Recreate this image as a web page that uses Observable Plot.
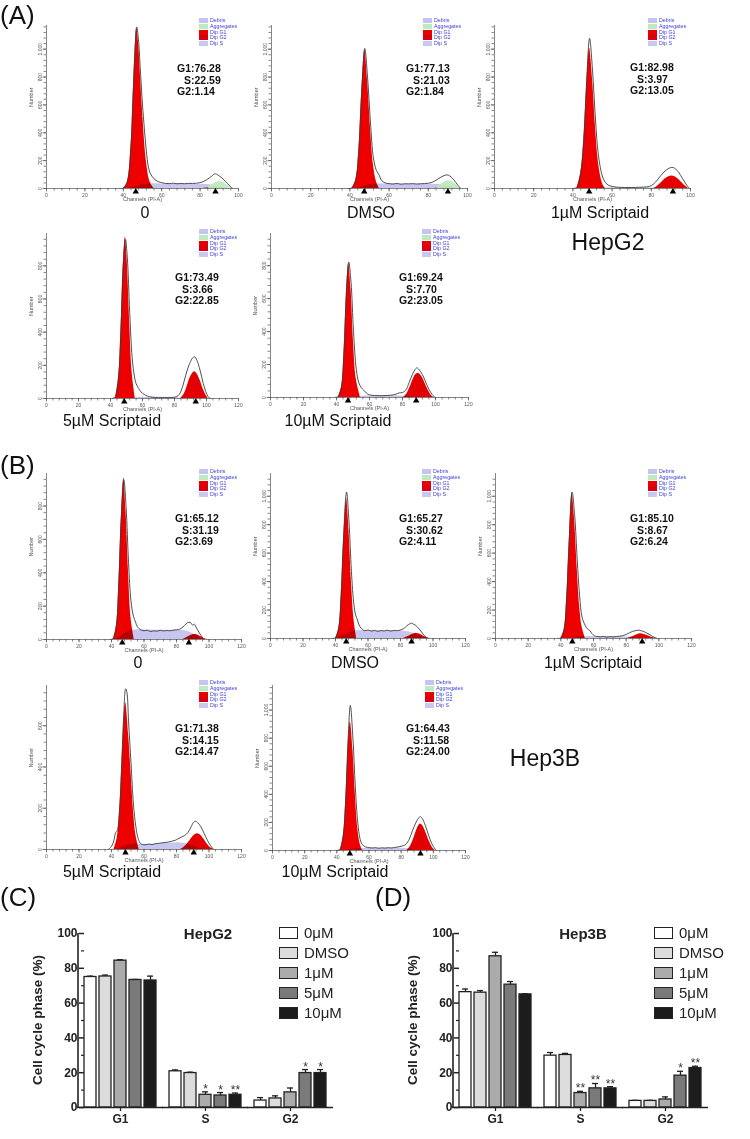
<!DOCTYPE html>
<html><head><meta charset="utf-8">
<script src="https://cdn.jsdelivr.net/npm/d3@7"></script>
<script src="https://cdn.jsdelivr.net/npm/@observablehq/plot@0.6"></script>
<style>
body{margin:0;background:#fff;font-family:Arial,"Liberation Sans",sans-serif;}
#root{position:relative;width:750px;height:1139px;overflow:hidden;background:#fff;}
.abs{position:absolute;white-space:nowrap;}
.panel{font-size:26px;color:#111;line-height:30px;}
.cond{font-size:16px;color:#111;transform:translate(-50%,-50%);}
.big{font-size:23px;color:#111;transform:translate(-50%,-50%);}
.stats{font-size:10.5px;font-weight:bold;line-height:11.5px;color:#111;}
.stats .k{display:inline-block;width:14px;text-align:right;}
.leg{font-size:5.3px;color:#3b3bd6;line-height:5.8px;}
.leg i{display:inline-block;width:9px;height:5px;margin-right:2px;vertical-align:middle;}
.btitle{font-size:15px;font-weight:bold;color:#222;transform:translate(-50%,-50%);}
.bleg{font-size:15px;color:#222;line-height:20px;}
.bleg i{display:inline-block;width:17px;height:10px;border:1.3px solid #222;margin-right:6px;vertical-align:-1px;}
.ytitle{font-size:13.5px;font-weight:bold;color:#222;transform:translate(-50%,-50%) rotate(-90deg);}
</style></head><body><div id="root"></div>
<script>
// ---------------- DATA ----------------
const conditions = ["0","DMSO","1µM Scriptaid","5µM Scriptaid","10µM Scriptaid"];
const legendItems = ["Debris","Aggregates","Dip G1","Dip G2","Dip S"];
const hepg2_stats = [["76.28","22.59","1.14"],["77.13","21.03","1.84"],["82.98","3.97","13.05"],["73.49","3.66","22.85"],["69.24","7.70","23.05"]];
const hep3b_stats = [["65.12","31.19","3.69"],["65.27","30.62","4.11"],["85.10","8.67","6.24"],["71.38","14.15","14.47"],["64.43","11.58","24.00"]];

// HepG2 0
const hepg2_0_g1 = [[40,0],[42,40],[44,300],[45,620],[46,950],[47,1150],[48,1040],[49,800],[50,560],[52,200],[54,45],[56,0]];
const hepg2_0_line = [[38,0],[40,3],[42,45],[44,305],[45,625],[46,955],[47,1160],[48,1050],[49,820],[50,600],[52,270],[53,160],[54,110],[56,70],[58,50],[60,42],[62,36],[64,35],[66,38],[68,34],[70,36],[72,34],[74,37],[76,36],[78,38],[80,42],[82,52],[84,68],[86,88],[87,100],[88,106],[89,100],[90,90],[92,68],[94,38],[96,12],[97,0]];
const hepg2_0_s = [[42,0],[46,12],[50,28],[54,33],[60,33],[70,32],[80,30],[86,25],[90,15],[94,4],[96,0]];
const hepg2_0_agg = [[84,0],[86,25],[88,42],[90,50],[92,45],[94,25],[96,5],[97,0]];
const hepg2_0_g2 = [[82,0],[85,7],[88,12],[91,7],[94,0]];
const hepg2_0_peaks = [46.5,88];
// HepG2 DMSO
const hepg2_dmso_g1 = [[41,0],[43,60],[44.5,260],[46,680],[47.6,995],[49,780],[50.5,440],[52,170],[53.5,50],[55,0]];
const hepg2_dmso_line = [[39,0],[41,4],[43,65],[44.5,265],[46,690],[47.6,1005],[49,800],[50.5,470],[52,220],[53.5,130],[55,95],[56,60],[58,40],[60,35],[62,32],[64,36],[66,31],[68,34],[70,33],[72,35],[74,32],[76,34],[78,35],[80,38],[82,45],[84,60],[86,78],[88,92],[89.5,98],[91,90],[93,62],[95,25],[96.5,0]];
const hepg2_dmso_s = [[43,0],[47,15],[51,28],[55,32],[65,31],[75,30],[85,28],[90,20],[94,6],[96,0]];
const hepg2_dmso_agg = [[84,0],[86,25],[88,45],[90,55],[92,50],[94,30],[96,5],[97,0]];
const hepg2_dmso_g2 = [[83,0],[86,8],[89,12],[92,7],[95,0]];
const hepg2_dmso_peaks = [47.3,90];
// HepG2 1uM
const hepg2_1_g1 = [[42,0],[44,110],[45.5,330],[47,720],[48.5,1007],[50,790],[51.5,450],[53,190],[55,40],[56.5,0]];
const hepg2_1_line = [[40,0],[42,8],[44,115],[45.5,345],[47,770],[48.5,1078],[50,850],[51.5,500],[53,240],[55,90],[56.5,45],[58,25],[60,15],[62,10],[65,8],[68,7],[72,8],[76,10],[79,15],[81,30],[83,60],[85,95],[87,125],[89,145],[90.5,152],[92,145],[94,115],[96,70],[98,25],[99.5,0]];
const hepg2_1_s = [[50,0],[55,5],[65,6],[75,6],[82,4],[88,0]];
const hepg2_1_g2 = [[81,0],[83,15],[85,40],[87,68],[89,85],[90.5,90],[92,85],[94,65],[96,35],[98,10],[99,0]];
const hepg2_1_peaks = [48.3,91];
// HepG2 5uM
const hepg2_5_g1 = [[43,0],[45,120],[46.5,400],[48,800],[49.3,974],[50.5,820],[52,460],[53.5,160],[55.5,0]];
const hepg2_5_line = [[41,0],[43,10],[45,125],[46.5,410],[48,820],[49.3,960],[50.5,850],[52,520],[53.5,250],[55,130],[56,90],[57.6,60],[59,40],[61,25],[63,15],[66,8],[70,5],[74,5],[78,6],[81,10],[83,25],[85,70],[87,140],[89,200],[91,240],[92.5,252],[94,230],[96,170],[98,90],[100,30],[101.5,5],[103,0]];
const hepg2_5_s = [[52,0],[58,6],[70,7],[80,6],[86,0]];
const hepg2_5_g2 = [[84,0],[86,25],[88,75],[90,130],[92.5,162],[94,150],[96,110],[98,55],[100,15],[101,0]];
const hepg2_5_peaks = [48.6,93.3];
// HepG2 10uM
const hepg2_10_g1 = [[41,0],[43,60],[44.5,260],[46,620],[47.4,812],[48.8,660],[50.3,340],[52,110],[54.5,0]];
const hepg2_10_line = [[39,0],[41,5],[43,65],[44.5,270],[46,640],[47.4,822],[48.8,700],[50.3,400],[52,170],[53.5,90],[55,60],[56.5,44],[58,28],[60,16],[63,12],[66,11],[70,12],[73,14],[76,20],[78,28],[80,30],[82,45],[84,90],[86,140],[87.5,168],[88.7,180],[90,170],[92,140],[94,95],[96,50],[98,18],[99.8,0]];
const hepg2_10_s = [[52,0],[56,8],[65,10],[75,10],[82,6],[88,0]];
const hepg2_10_g2 = [[80.5,0],[82.5,20],[84.5,60],[86.5,110],[88,138],[89.7,145],[91.5,130],[93.5,90],[95.5,45],[97.5,12],[99,0]];
const hepg2_10_peaks = [47,88.3];
// Hep3B 0
const hep3b_0_g1 = [[41,0],[43,80],[44.5,330],[46,720],[47.6,968],[49,760],[50.5,400],[52,130],[54,0]];
const hep3b_0_line = [[39,0],[41,5],[43,85],[44.5,335],[46,725],[47.6,958],[49,790],[50.5,460],[52,230],[53.5,140],[54.8,104],[56,75],[58,58],[60,52],[62,55],[64,48],[66,52],[68,50],[70,55],[72,51],[74,54],[76,52],[78,56],[80,58],[82,62],[84,75],[86,95],[87.6,104],[89,98],[90,85],[91,92],[92,75],[94,40],[96,12],[97,0]];
const hep3b_0_s = [[42,0],[45,15],[48,35],[52,52],[56,58],[65,56],[75,55],[85,52],[88,45],[91,30],[94,10],[96,0]];
const hep3b_0_g2 = [[84,0],[87,15],[90,28],[92,30],[94,22],[97,6],[99,0]];
const hep3b_0_peaks = [46.6,87.6];
// Hep3B DMSO
const hep3b_dmso_g1 = [[40,0],[42,70],[43.5,300],[45,690],[46.8,984],[48.3,760],[49.8,400],[51.3,140],[53,0]];
const hep3b_dmso_line = [[38,0],[40,5],[42,75],[43.5,310],[45,720],[46.8,1030],[48.3,820],[49.8,470],[51.3,240],[52.5,160],[53.3,138],[54.5,95],[56,70],[58,55],[60,60],[62,52],[64,57],[66,50],[68,56],[70,53],[72,58],[74,52],[76,57],[78,55],[80,60],[82,70],[84,90],[86,105],[87,108],[88,100],[89,95],[90,85],[92,60],[94,30],[96.4,0]];
const hep3b_dmso_s = [[41,0],[44,15],[47,35],[51,50],[55,56],[65,55],[75,54],[83,50],[87,40],[90,28],[93,10],[95,0]];
const hep3b_dmso_g2 = [[82,0],[85,15],[88,32],[90,36],[92,30],[95,12],[98,0]];
const hep3b_dmso_peaks = [46.6,86.8];
// Hep3B 1uM
const hep3b_1_g1 = [[40,0],[42,60],[43.5,260],[45,640],[46.9,1019],[48.5,820],[50,500],[51.5,230],[53,80],[55,0]];
const hep3b_1_line = [[38,0],[40,4],[42,65],[43.5,270],[45,660],[46.9,1030],[48.5,860],[50,560],[51.5,300],[53,150],[55,90],[56.5,65],[57.7,56],[59,35],[60.5,20],[62,14],[64,12],[66,14],[68,10],[70,13],[72,11],[74,14],[76,16],[78,20],[80,28],[82,40],[84,50],[86,56],[88,58],[89,55],[90,52],[92,42],[94,30],[96,15],[98,5],[99,0]];
const hep3b_1_s = [[46,0],[50,8],[56,14],[65,14],[75,13],[82,10],[88,4],[92,0]];
const hep3b_1_g2 = [[81,0],[83,8],[85,18],[87,28],[88.8,33],[90.5,30],[92.5,22],[95,10],[97,3],[99,0]];
const hep3b_1_peaks = [47,89.8];
// Hep3B 5uM
const hep3b_5_g1 = [[41.5,0],[43.5,55],[45,180],[46.5,420],[48.7,711],[50.5,560],[52,380],[53.5,190],[55,70],[57,0]];
const hep3b_5_line = [[38,0],[40,15],[41.5,45],[42.5,81],[43.5,90],[45,200],[46.5,460],[47.5,650],[48.7,779],[49.5,760],[50.5,620],[52,420],[53.5,220],[55,110],[56.5,50],[57.9,28],[59,24],[61,23],[63,26],[65,24],[67,28],[69,30],[71,32],[73,34],[75,36],[77,40],[79,44],[81,52],[83,60],[85,68],[87,82],[89,110],[90.5,132],[91.8,137],[93,130],[95,110],[97,78],[99,45],[101,18],[103,0]];
const hep3b_5_s = [[43,0],[46,10],[50,20],[55,25],[65,26],[75,30],[82,32],[86,28],[90,18],[94,6],[97,0]];
const hep3b_5_g2 = [[82.5,0],[84.5,10],[86.5,25],[88.5,45],[90.5,65],[92.8,76],[95,68],[97,48],[99,25],[101,8],[103,0]];
const hep3b_5_peaks = [48.6,90.6];
// Hep3B 10uM
const hep3b_10_g1 = [[42,0],[44,100],[45.5,340],[47,720],[48.4,915],[50,720],[51.5,400],[53,160],[54.5,45],[56,0]];
const hep3b_10_line = [[40,0],[42,8],[44,110],[45.5,360],[47,790],[48.4,1033],[50,800],[51.5,450],[53,200],[54.5,80],[56,40],[58,25],[60,20],[62,18],[64,20],[66,16],[68,19],[70,17],[72,20],[74,18],[76,22],[78,25],[80,30],[81.6,35],[83,45],[85,80],[87,140],[89,195],[90.5,225],[91.9,241],[93,230],[95,180],[97,110],[99,50],[101,12],[102,0]];
const hep3b_10_s = [[46,0],[50,10],[56,15],[65,16],[75,16],[82,14],[86,8],[90,0]];
const hep3b_10_g2 = [[83.5,0],[85.5,25],[87.5,75],[89.5,140],[91,178],[92,188],[93.5,175],[95.5,125],[97.5,65],[99.5,20],[101.2,0]];
const hep3b_10_peaks = [48.1,92];

// Bar charts
const phases = ["G1","S","G2"];
const treatments = ["0μM","DMSO","1μM","5μM","10μM"];
const hepg2_G1 = [75.0,75.3,84.4,73.3,73.0];
const hepg2_S  = [20.8,19.8,7.3,6.9,7.3];
const hepg2_G2 = [4.0,5.2,8.7,19.8,19.8];
const hepg2_G1_err = [0.5,0.8,0.5,0.3,2.5];
const hepg2_S_err  = [0.8,0.5,1.7,1.7,1.0];
const hepg2_G2_err = [1.7,1.5,2.5,2.0,2.0];
const hepg2_sig = [["","","","",""],["","","*","*","**"],["","","","*","*"]];
const hep3b_G1 = [66.3,66.0,86.9,70.6,65.0];
const hep3b_S  = [29.8,30.2,8.3,11.0,11.0];
const hep3b_G2 = [3.8,3.8,4.6,18.3,22.7];
const hep3b_G1_err = [1.8,1.2,2.3,1.8,0.4];
const hep3b_S_err  = [1.8,0.9,1.0,2.8,1.0];
const hep3b_G2_err = [0.3,0.3,1.5,2.5,1.0];
const hep3b_sig = [["","","","",""],["","","**","**","**"],["","","","*","**"]];

// ---------------- LAYOUT / STYLE ----------------
const FONT = "Arial, 'Liberation Sans', sans-serif";
const root = document.getElementById("root");
function put(html, cls, x, y){const d=document.createElement("div");d.className="abs "+cls;d.style.left=x+"px";d.style.top=y+"px";d.innerHTML=html;root.appendChild(d);return d;}
const legendColors = ["#c4c4ee","#bfeabf","#e60000","#d80010","#c8c8f0"];
const barFills = ["#ffffff","#dcdcdc","#ababab","#7a7a7a","#1c1c1c"];

const hists = [
  {g:{x0:46,x1:238,xmax:100,yTop:25,yBase:188,ymax:1170}, line:hepg2_0_line,g1:hepg2_0_g1,g2:hepg2_0_g2,s:hepg2_0_s,agg:hepg2_0_agg,peaks:hepg2_0_peaks, st:hepg2_stats[0], sp:[177,63], lp:[199,18], lab:conditions[0], cp:[145,213]},
  {g:{x0:271,x1:467,xmax:100,yTop:25,yBase:188,ymax:1170}, line:hepg2_dmso_line,g1:hepg2_dmso_g1,g2:hepg2_dmso_g2,s:hepg2_dmso_s,agg:hepg2_dmso_agg,peaks:hepg2_dmso_peaks, st:hepg2_stats[1], sp:[406,63], lp:[423,18], lab:conditions[1], cp:[371,213]},
  {g:{x0:494,x1:690,xmax:100,yTop:25,yBase:188,ymax:1170}, line:hepg2_1_line,g1:hepg2_1_g1,g2:hepg2_1_g2,s:hepg2_1_s,peaks:hepg2_1_peaks, st:hepg2_stats[2], sp:[630,62], lp:[648,18], lab:conditions[2], cp:[600,213]},
  {g:{x0:46,x1:238,xmax:120,yTop:233,yBase:398,ymax:995}, line:hepg2_5_line,g1:hepg2_5_g1,g2:hepg2_5_g2,s:hepg2_5_s,peaks:hepg2_5_peaks, st:hepg2_stats[3], sp:[175,272], lp:[199,229], lab:conditions[3], cp:[112,421]},
  {g:{x0:270,x1:468,xmax:120,yTop:233,yBase:397,ymax:995}, line:hepg2_10_line,g1:hepg2_10_g1,g2:hepg2_10_g2,s:hepg2_10_s,peaks:hepg2_10_peaks, st:hepg2_stats[4], sp:[399,272], lp:[422,229], lab:conditions[4], cp:[338,421]},
  {g:{x0:46,x1:241,xmax:120,yTop:473,yBase:639,ymax:995}, line:hep3b_0_line,g1:hep3b_0_g1,g2:hep3b_0_g2,s:hep3b_0_s,peaks:hep3b_0_peaks, st:hep3b_stats[0], sp:[175,513], lp:[199,469], lab:conditions[0], cp:[138,663]},
  {g:{x0:270,x1:465,xmax:120,yTop:473,yBase:638,ymax:1160}, line:hep3b_dmso_line,g1:hep3b_dmso_g1,g2:hep3b_dmso_g2,s:hep3b_dmso_s,peaks:hep3b_dmso_peaks, st:hep3b_stats[1], sp:[399,513], lp:[422,469], lab:conditions[1], cp:[355,663]},
  {g:{x0:495,x1:691,xmax:120,yTop:473,yBase:638,ymax:1160}, line:hep3b_1_line,g1:hep3b_1_g1,g2:hep3b_1_g2,s:hep3b_1_s,peaks:hep3b_1_peaks, st:hep3b_stats[2], sp:[630,513], lp:[648,469], lab:conditions[2], cp:[593,663]},
  {g:{x0:46,x1:241,xmax:120,yTop:685,yBase:849,ymax:795}, line:hep3b_5_line,g1:hep3b_5_g1,g2:hep3b_5_g2,s:hep3b_5_s,peaks:hep3b_5_peaks, st:hep3b_stats[3], sp:[175,723], lp:[199,680], lab:conditions[3], cp:[112,872]},
  {g:{x0:272,x1:465,xmax:120,yTop:685,yBase:850,ymax:1175}, line:hep3b_10_line,g1:hep3b_10_g1,g2:hep3b_10_g2,s:hep3b_10_s,peaks:hep3b_10_peaks, st:hep3b_stats[4], sp:[406,723], lp:[425,680], lab:conditions[4], cp:[335,872]}
];

const X = d => d[0], Y = d => d[1];
function drawHist(h){
  const g=h.g, mL=30, mR=8, mT=4, mB=24;
  const svg = Plot.plot({
    width:g.x1-g.x0+mL+mR, height:g.yBase-g.yTop+mT+mB,
    marginLeft:mL, marginRight:mR, marginTop:mT, marginBottom:mB,
    style:{background:"transparent", color:"#555", fontFamily:FONT, overflow:"visible"},
    x:{domain:[0,g.xmax]}, y:{domain:[0,g.ymax]},
    marks:[
      Plot.areaY(h.g1,{x:X,y:Y,fill:"#ee0000",curve:"catmull-rom"}),
      Plot.areaY(h.g2,{x:X,y:Y,fill:"#e30000",curve:"catmull-rom"}),
      Plot.areaY(h.s,{x:X,y:Y,fill:"#c6c6f0",curve:"catmull-rom",mixBlendMode:"multiply"}),
      h.agg ? Plot.areaY(h.agg,{x:X,y:Y,fill:"#bdebbd",fillOpacity:0.95,curve:"catmull-rom"}) : null,
      Plot.lineY(h.line,{x:X,y:Y,stroke:"#3c3c3c",strokeWidth:0.9,curve:"catmull-rom"}),
      Plot.ruleX([0],{stroke:"#666",strokeWidth:0.8}),
      Plot.ruleY([0],{stroke:"#666",strokeWidth:0.8}),
      Plot.axisX({ticks:d3.range(0,g.xmax+1,4),tickSize:2.5,tickFormat:()=>"",label:null,strokeWidth:0.7}),
      Plot.axisX({ticks:d3.range(0,g.xmax+1,20),tickSize:3.5,tickPadding:1,fontSize:5,label:null,strokeWidth:0.7}),
      Plot.axisY({ticks:d3.range(0,g.ymax,40),tickSize:2.5,tickFormat:()=>"",label:null,strokeWidth:0.7}),
      Plot.axisY({ticks:d3.range(0,g.ymax,200),tickSize:3.5,tickPadding:1,tickRotate:-90,fontSize:5,label:null,strokeWidth:0.7}),
      Plot.dot(h.peaks,{x:c=>c,y:()=>0,symbol:"triangle",r:2.4,fill:"#000",stroke:null,dy:3.2}),
      Plot.text(["Number"],{frameAnchor:"left",rotate:-90,dx:-15,fontSize:5.5,fill:"#555"}),
      Plot.text(["Channels (PI-A)"],{frameAnchor:"bottom",dy:12,fontSize:5.5,fill:"#555"})
    ]
  });
  svg.style.position="absolute"; svg.style.left=(g.x0-mL)+"px"; svg.style.top=(g.yTop-mT)+"px";
  root.appendChild(svg);
  put(`<div><span class="k">G1</span>:${h.st[0]}</div><div><span class="k">S</span>:${h.st[1]}</div><div><span class="k">G2</span>:${h.st[2]}</div>`,"stats",h.sp[0],h.sp[1]);
  put(legendItems.map((t,i)=>`<div><i style="background:${legendColors[i]}"></i>${t}</div>`).join(""),"leg",h.lp[0],h.lp[1]);
  put(h.lab,"cond",h.cp[0],h.cp[1]);
}
hists.forEach(drawHist);

put("(A)","panel",0,0);
put("(B)","panel",0,450);
put("HepG2","big",608,242);
put("Hep3B","big",545,758);

function drawBars(left, title, means, errs, sig){
  const rows=[];
  phases.forEach((ph,i)=>treatments.forEach((t,j)=>rows.push({phase:ph,t,v:means[i][j],e:errs[i][j],star:sig[i][j]})));
  const mL=78;
  const svg = Plot.plot({
    width:375, height:226, marginLeft:mL, marginRight:42, marginTop:20, marginBottom:32,
    style:{background:"transparent", color:"#222", fontFamily:FONT, overflow:"visible"},
    fx:{domain:phases, paddingInner:0.15, paddingOuter:0.066, label:null},
    x:{domain:treatments, paddingInner:0.23, paddingOuter:0, axis:null},
    y:{domain:[0,100]},
    color:{domain:treatments, range:barFills},
    marks:[
      Plot.ruleX(rows,{fx:"phase",x:"t",y1:"v",y2:d=>d.v+d.e,stroke:"#222",strokeWidth:1.3}),
      Plot.barY(rows,{fx:"phase",x:"t",y:"v",fill:"t",stroke:"#222",strokeWidth:1.3}),
      Plot.tickY(rows,{fx:"phase",x:"t",y:d=>d.v+d.e,stroke:"#222",strokeWidth:1.3,insetLeft:3,insetRight:3}),
      Plot.text(rows.filter(d=>d.star),{fx:"phase",x:"t",y:d=>d.v+d.e,text:"star",dy:1,lineAnchor:"bottom",fontSize:12,fill:"#333"}),
      Plot.ruleY([0],{stroke:"#222",strokeWidth:1.6,insetLeft:-7,insetRight:-7}),
      Plot.axisY({ticks:[0,20,40,60,80,100],tickSize:5,tickPadding:2,fontSize:12,fontWeight:"bold",label:null,strokeWidth:1.5}),
      Plot.axisY({ticks:[10,30,50,70,90],tickSize:3,tickFormat:()=>"",label:null,strokeWidth:1.2}),
      Plot.axisFx({anchor:"bottom",tickSize:4,tickPadding:3,fontSize:12,fontWeight:"bold",label:null,strokeWidth:1.3})
    ]
  });
  // y-axis line along the frame's left edge, spanning the y scale's range
  const yr = svg.scale("y").range;
  d3.select(svg).append("line").attr("x1",mL).attr("x2",mL).attr("y1",yr[0]+0.8).attr("y2",yr[1])
    .attr("stroke","#222").attr("stroke-width",1.6);
  svg.style.position="absolute"; svg.style.left=left+"px"; svg.style.top="913px";
  root.appendChild(svg);
  put(title,"btitle",left+208,933);
  put(treatments.map((t,i)=>`<div><i style="background:${barFills[i]}"></i>${t}</div>`).join(""),"bleg",left+279,923);
  put("Cell cycle phase (%)","ytitle",left+37,1020);
}
drawBars(0,"HepG2",[hepg2_G1,hepg2_S,hepg2_G2],[hepg2_G1_err,hepg2_S_err,hepg2_G2_err],hepg2_sig);
drawBars(375,"Hep3B",[hep3b_G1,hep3b_S,hep3b_G2],[hep3b_G1_err,hep3b_S_err,hep3b_G2_err],hep3b_sig);
put("(C)","panel",0,882);
put("(D)","panel",375,882);
</script></body></html>
